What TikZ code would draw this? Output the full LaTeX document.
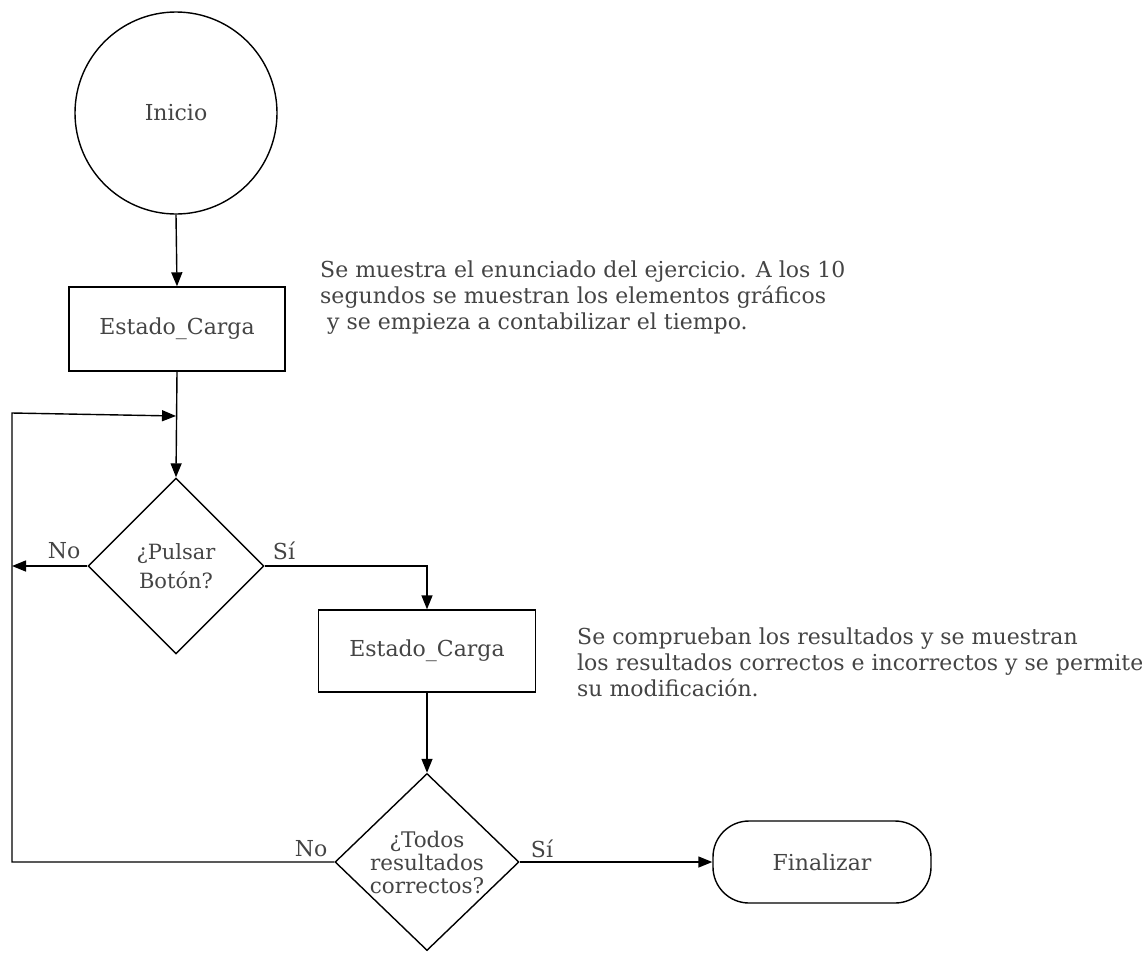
\documentclass[tikz,border=0pt]{standalone}
\usepackage{fontspec}
\setmainfont{DejaVu Serif}
\usetikzlibrary{shapes.geometric,arrows.meta}
\definecolor{txt}{HTML}{444444}
\tikzset{
  box/.style={draw=black, line width=1.4pt, rectangle, minimum width=216pt, minimum height=84pt, text=txt, font=\fontsize{22}{26}\selectfont},
  dec/.style={draw=black, line width=1.4pt, diamond, aspect=1, inner sep=0pt, text=txt, align=center},
  arr/.style={draw=black, line width=1.4pt, -{Triangle[length=14pt,width=11pt]}},
  lbl/.style={text=txt, font=\fontsize{22}{26}\selectfont},
  note/.style={text=txt, align=left, anchor=north west, inner sep=0pt, font=\fontsize{22}{26}\selectfont},
}
\begin{document}
\begin{tikzpicture}[x=1pt,y=-1pt]
\useasboundingbox (0,0) rectangle (1142,978);
\node[draw=black, line width=1.4pt, circle, minimum size=202pt, text=txt, font=\fontsize{22}{26}\selectfont] (ini) at (176,113) {Inicio};
\node[box] (r1) at (177,329) {Estado\_Carga};
\node[dec, minimum width=176pt, minimum height=176pt, font=\fontsize{21}{29}\selectfont] (d1) at (176,566) {¿Pulsar\\Botón?};
\node[box, minimum width=217pt, minimum height=82pt] (r2) at (427,651) {Estado\_Carga};
\node[dec, minimum width=184pt, minimum height=171pt, font=\fontsize{21.5}{23}\selectfont] (d2) at (427,862) {¿Todos\\resultados\\correctos?};
\node[draw=black, line width=1.4pt, rounded corners=36pt, minimum width=218pt, minimum height=82pt, text=txt, font=\fontsize{22}{26}\selectfont] (fin) at (822,862) {Finalizar};

\coordinate (no1) at (12,566);
\coordinate (lc) at (12,862);
\coordinate (tc) at (12,413);
\coordinate (join) at (176,416);
\coordinate (sic) at (427,566);

\draw[arr] (ini.south) -- (r1.north);
\draw[arr] (r1.south) -- (d1.north);
\draw[arr] (d1.west) -- (no1);
\draw[arr] (d1.east) -- (sic) -- (r2.north);
\draw[arr] (r2.south) -- (d2.north);
\draw[arr] (d2.east) -- (fin.west);
\draw[arr] (d2.west) -- (lc) -- (tc) -- (join);

\node[lbl] (lno1) at (64,551) {No};
\node[lbl] (lsi1) at (284,551) {Sí};
\node[lbl] (lno2) at (311,849) {No};
\node[lbl] (lsi2) at (542,849) {Sí};

\node[note] (n1) at (320,261) {Se muestra el enunciado del ejercicio. A los 10\\segundos se muestran los elementos gráficos\\\ y se empieza a contabilizar el tiempo.};
\node[note] (n2) at (577,628) {Se comprueban los resultados y se muestran\\los resultados correctos e incorrectos y se permite\\su modificación.};
\end{tikzpicture}
\end{document}
